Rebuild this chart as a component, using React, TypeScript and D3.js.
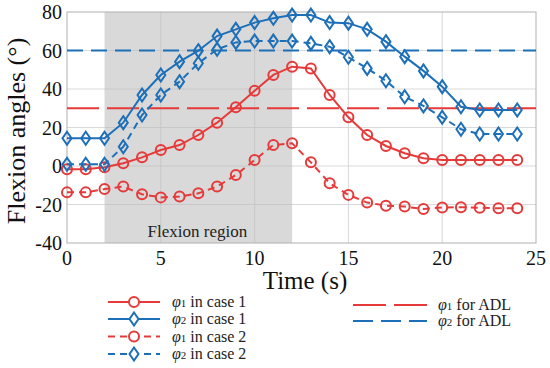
import { useEffect, useRef } from 'react'
import * as d3 from 'd3'

const RED = '#e63a3a'
const BLUE = '#1d6fb8'

const times = d3.range(0, 25)

const phi1Case1 = [-1.7, -1.7, -0.7, 1.4, 4.5, 8.3, 10.9, 16.1, 22.5, 30.5, 39.1, 47.3, 51.6, 50.7, 36.9, 25.3, 16.1, 10.4, 6.6, 4.0, 3.1, 3.1, 3.1, 3.1, 3.1]
const phi2Case1 = [14.4, 14.4, 14.4, 22.5, 36.9, 47.3, 54.2, 59.9, 67.5, 71.0, 74.5, 76.7, 78.4, 78.4, 74.5, 74.2, 71.0, 64.6, 56.8, 49.4, 41.2, 30.8, 29.1, 29.1, 29.1]
const phi1Case2 = [-13.7, -13.7, -12.0, -10.7, -14.7, -16.3, -15.9, -14.2, -10.7, -4.7, 3.1, 10.9, 11.8, 1.9, -9.0, -15.0, -19.0, -20.6, -21.1, -22.3, -21.6, -21.4, -21.7, -22.0, -22.0]
const phi2Case2 = [0.9, 0.9, 0.9, 10.0, 26.5, 36.9, 43.8, 53.4, 60.6, 64.2, 64.9, 64.9, 64.9, 63.7, 62.0, 56.5, 50.7, 44.3, 36.0, 31.2, 25.3, 19.1, 16.6, 16.6, 16.6]

const adlLevels = [30, 60] // phi1, phi2 for ADL
const flexionRegion = [2, 12]

const xTicks = [0, 5, 10, 15, 20, 25]
const yTicks = [-40, -20, 0, 20, 40, 60, 80]

const seriesList = [
  { sub: '1', cas: '1', values: phi1Case1, color: RED, marker: 'circle', dash: null },
  { sub: '2', cas: '1', values: phi2Case1, color: BLUE, marker: 'diamond', dash: null },
  { sub: '1', cas: '2', values: phi1Case2, color: RED, marker: 'circle', dash: '7,5' },
  { sub: '2', cas: '2', values: phi2Case2, color: BLUE, marker: 'diamond', dash: '7,5' },
]

const SERIF = 'Liberation Serif, DejaVu Serif, serif'

export default function App() {
  const svgRef = useRef<SVGSVGElement>(null)

  useEffect(() => {
    document.body.style.margin = '0'
    if (!svgRef.current) return
    const svg = d3.select(svgRef.current)
    svg.selectAll('*').remove()

    const left = 67, right = 536, top = 12, bottom = 243
    const x = d3.scaleLinear().domain([0, 25]).range([left, right])
    const y = d3.scaleLinear().domain([-40, 80]).range([bottom, top])

    svg.append('rect').attr('x', left).attr('y', top)
      .attr('width', right - left).attr('height', bottom - top).attr('fill', '#fff')

    // flexion region
    svg.append('rect')
      .attr('x', x(flexionRegion[0])).attr('y', top)
      .attr('width', x(flexionRegion[1]) - x(flexionRegion[0]))
      .attr('height', bottom - top)
      .attr('fill', '#d9d9d9')

    // grid
    const grid = svg.append('g').attr('stroke', '#bdbdbd').attr('stroke-width', 0.8).attr('opacity', 0.7)
    xTicks.slice(1, -1).forEach(t => {
      grid.append('line').attr('x1', x(t)).attr('x2', x(t)).attr('y1', top).attr('y2', bottom)
    })
    yTicks.slice(1, -1).forEach(t => {
      grid.append('line').attr('x1', left).attr('x2', right).attr('y1', y(t)).attr('y2', y(t))
    })

    svg.append('rect').attr('x', left).attr('y', top)
      .attr('width', right - left).attr('height', bottom - top)
      .attr('fill', 'none').attr('stroke', '#b0b0b0').attr('stroke-width', 1)

    svg.append('text')
      .attr('x', x(6.95)).attr('y', 237)
      .attr('text-anchor', 'middle')
      .style('font-family', SERIF).attr('font-size', 17).attr('fill', '#222')
      .text('Flexion region')

    // ADL lines
    adlLevels.forEach((v, i) => {
      svg.append('line')
        .attr('x1', left).attr('x2', right).attr('y1', y(v)).attr('y2', y(v))
        .attr('stroke', i === 0 ? RED : BLUE).attr('stroke-width', 2)
        .attr('stroke-dasharray', i === 0 ? '32,8' : '16,8')
    })

    const line = d3.line<number>().x((_, i) => x(times[i])).y(d => y(d))
    const diamond = (cx: number, cy: number) =>
      `M${cx},${cy - 6.5}L${cx + 4.5},${cy}L${cx},${cy + 6.5}L${cx - 4.5},${cy}Z`

    seriesList.forEach(s => {
      svg.append('path')
        .attr('d', line(s.values))
        .attr('fill', 'none').attr('stroke', s.color).attr('stroke-width', 2)
        .attr('stroke-dasharray', s.dash)
      const g = svg.append('g')
      s.values.forEach((v, i) => {
        if (s.marker === 'circle') {
          g.append('circle').attr('cx', x(times[i])).attr('cy', y(v)).attr('r', 5)
            .attr('fill', 'none').attr('stroke', s.color).attr('stroke-width', 2)
        } else {
          g.append('path').attr('d', diamond(x(times[i]), y(v)))
            .attr('fill', 'none').attr('stroke', s.color).attr('stroke-width', 2)
        }
      })
    })

    // tick labels
    xTicks.forEach(t => {
      svg.append('text').attr('x', x(t)).attr('y', 265)
        .attr('text-anchor', 'middle').style('font-family', SERIF).attr('font-size', 20)
        .attr('fill', '#111').text(t)
    })
    yTicks.forEach(t => {
      svg.append('text').attr('x', 62).attr('y', y(t) + 7)
        .attr('text-anchor', 'end').style('font-family', SERIF).attr('font-size', 20)
        .attr('fill', '#111').text(t)
    })

    svg.append('text').attr('x', 305).attr('y', 289)
      .attr('text-anchor', 'middle').style('font-family', SERIF).attr('font-size', 25)
      .attr('fill', '#111').text('Time (s)')
    svg.append('text')
      .attr('transform', `translate(25, 131) rotate(-90)`)
      .attr('text-anchor', 'middle').style('font-family', SERIF).attr('font-size', 26)
      .attr('fill', '#111').text('Flexion angles (°)')

    // legend
    const leg = svg.append('g')
    const rows = [302, 319, 336.5, 354]
    seriesList.forEach((s, i) => {
      const ly = rows[i]
      leg.append('line').attr('x1', 108).attr('x2', 160).attr('y1', ly).attr('y2', ly)
        .attr('stroke', s.color).attr('stroke-width', 2).attr('stroke-dasharray', s.dash)
      if (s.marker === 'circle') {
        leg.append('circle').attr('cx', 134).attr('cy', ly).attr('r', 5)
          .attr('fill', '#fff').attr('stroke', s.color).attr('stroke-width', 2)
      } else {
        leg.append('path').attr('d', diamond(134, ly))
          .attr('fill', '#fff').attr('stroke', s.color).attr('stroke-width', 2)
      }
      const t = leg.append('text').attr('x', 172).attr('y', ly + 5)
        .style('font-family', SERIF).attr('font-size', 16).attr('fill', '#222')
      t.append('tspan').attr('font-style', 'italic').text('φ')
      t.append('tspan').attr('font-size', 11).text(s.sub)
      t.append('tspan').text(' in case ')
      t.append('tspan').text(s.cas)
    })
    ;[305, 321].forEach((ly, i) => {
      leg.append('line').attr('x1', 353).attr('x2', 427).attr('y1', ly).attr('y2', ly)
        .attr('stroke', i === 0 ? RED : BLUE).attr('stroke-width', 2)
        .attr('stroke-dasharray', i === 0 ? '33,8' : '20,8')
      const t = leg.append('text').attr('x', 438).attr('y', ly + 5)
        .style('font-family', SERIF).attr('font-size', 16).attr('fill', '#222')
      t.append('tspan').attr('font-style', 'italic').text('φ')
      t.append('tspan').attr('font-size', 11).text(i === 0 ? '1' : '2')
      t.append('tspan').text(' for ADL')
    })
  }, [])

  return <svg ref={svgRef} width={550} height={368} style={{ display: 'block' }} />
}
